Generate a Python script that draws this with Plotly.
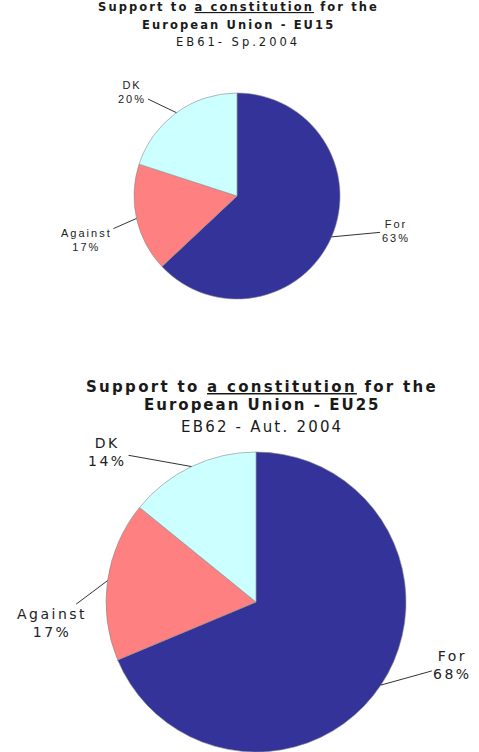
import math
import plotly.graph_objects as go

# ---- data ----
categories = ["For", "Against", "DK"]
eu15_values = [63, 17, 20]
eu25_values = [68, 17, 14]
colors = ["#333399", "#FF8080", "#CCFFFF"]

eu15_title = ["Support to <u>a constitution</u> for the", "European Union - EU15", "EB61- Sp.2004"]
eu25_title = ["Support to <u>a constitution</u> for the", "European Union - EU25", "EB62 - Aut. 2004"]

W, H = 479, 752

# pie geometry (pixels)
top_c, top_r = (237, 196), 103
bot_c, bot_r = (256, 602), 150


def domain(c, r):
    cx, cy = c
    return dict(x=[(cx - r) / W, (cx + r) / W],
                y=[max(0, (H - cy - r) / H), min(1, (H - cy + r) / H)])


def spaced(t, px):
    return f'<span style="letter-spacing:{px}px">{t}</span>'


fig = go.Figure()
for vals, c, r in [(eu15_values, top_c, top_r), (eu25_values, bot_c, bot_r)]:
    fig.add_trace(go.Pie(
        labels=categories, values=vals, sort=False, direction="clockwise", rotation=0,
        marker=dict(colors=colors, line=dict(color="#8a8a8a", width=0.6)),
        textinfo="none", hoverinfo="label+value", domain=domain(c, r), showlegend=False,
    ))


def tip(vals, i, c, r):
    tot = sum(vals)
    mid = (sum(vals[:i]) + vals[i] / 2) / tot * 2 * math.pi
    px = c[0] + r * math.sin(mid)
    py = c[1] - r * math.cos(mid)
    return px / W, 1 - py / H


annotations = []
# label offsets (pixels) for leader lines
top_offsets = [(64, -6), (-50, 22), (-44, -21)]
bot_offsets = [(72, -20), (-56, 42), (-84, -15)]
for vals, c, r, offs, font, ls in [
    (eu15_values, top_c, top_r, top_offsets, dict(family="Liberation Sans, Arial", size=11, color="#222"), 2.0),
    (eu25_values, bot_c, bot_r, bot_offsets, dict(family="DejaVu Sans, Verdana", size=14, color="#222"), 2.5),
]:
    for i, cat in enumerate(categories):
        x, y = tip(vals, i, c, r)
        annotations.append(dict(
            x=x, y=y, xref="paper", yref="paper",
            text=spaced(cat, ls) + "<br>" + spaced(f"{vals[i]}%", ls),
            showarrow=True, arrowhead=0, arrowwidth=1, arrowcolor="#333",
            ax=offs[i][0], ay=offs[i][1], font=font, align="center", standoff=0,
        ))

# titles
top_title_y = [7, 25, 42]
top_title_ls = [2.1, 2.1, 3.0]
bot_title_y = [387, 405, 427]
bot_title_ls = [2.3, 2.0, 2.2]
for i, t in enumerate(eu15_title):
    txt = spaced(t, top_title_ls[i])
    annotations.append(dict(
        x=238 / W, y=1 - top_title_y[i] / H, xref="paper", yref="paper", showarrow=False,
        text=(f"<b>{txt}</b>" if i < 2 else txt), xanchor="center", yanchor="middle",
        font=dict(family="DejaVu Sans", size=11.5, color="#1a1a1a"),
    ))
for i, t in enumerate(eu25_title):
    txt = spaced(t, bot_title_ls[i])
    annotations.append(dict(
        x=262 / W, y=1 - bot_title_y[i] / H, xref="paper", yref="paper", showarrow=False,
        text=(f"<b>{txt}</b>" if i < 2 else txt), xanchor="center", yanchor="middle",
        font=dict(family="DejaVu Sans", size=15, color="#1a1a1a"),
    ))

fig.update_layout(
    width=W, height=H, margin=dict(l=0, r=0, t=0, b=0),
    paper_bgcolor="white", plot_bgcolor="white", annotations=annotations,
)
fig.write_html("out.html", config={"displayModeBar": False},
               post_script="document.body.style.margin='0';")
